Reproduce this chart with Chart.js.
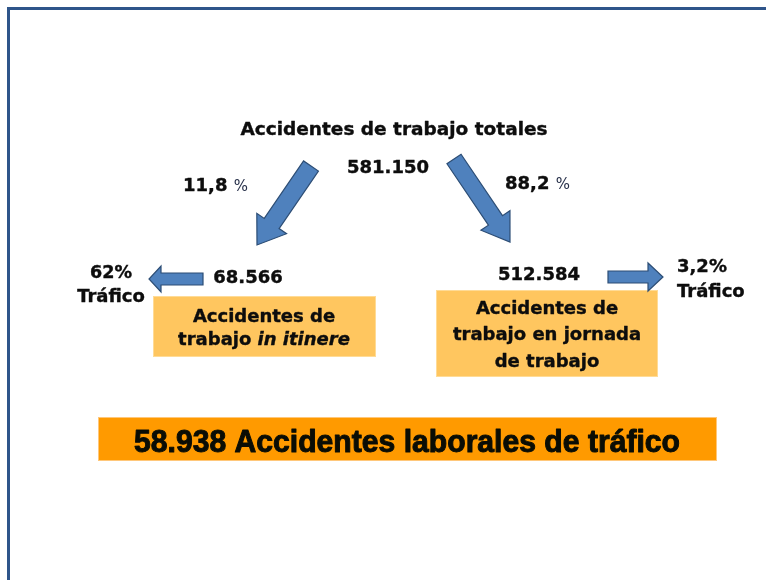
<!DOCTYPE html>
<html>
<head>
<meta charset="utf-8">
<script src="https://cdn.jsdelivr.net/npm/chart.js@4/dist/chart.umd.min.js"></script>
<style>
  html, body { margin: 0; padding: 0; background: #fff; }
  #wrap { width: 766px; height: 580px; }
</style>
</head>
<body>
<div id="wrap"><canvas id="flowChart" width="766" height="580"></canvas></div>
<script>
// values
var totalLabel = 'Accidentes de trabajo totales';
var totalAccidents = 581150;
var branchValues = [68566, 512584];          // in itinere, en jornada
var branchShares = [11.8, 88.2];             // % of the total
var branchLabels = [
    ['Accidentes de', 'trabajo *in itinere*'],
    ['Accidentes de', 'trabajo en jornada', 'de trabajo']
];
var trafficShares = [62, 3.2];               // % of each branch that is traffic
var trafficLabel = 'Tráfico';
var trafficTotal = 58938;
var summaryLabel = 'Accidentes laborales de tráfico';

// layout, in scale units (the scales run 0..766 and 0..580)
var layout = {
    title: { x: 394, y: 135, w: 308 },
    total: { x: 388, y: 173 },
    shares: [{ x: 183, y: 191 }, { x: 505, y: 189 }],
    values: [{ x: 248, y: 283 }, { x: 539, y: 280 }],
    boxes: [
        { x0: 153, y0: 296, x1: 376, y1: 357, cx: 264, lines: [322, 345], w: [145, 183] },
        { x0: 436, y0: 290, x1: 658, y1: 377, cx: 547, lines: [314, 340, 367], w: [143, 192, 105] }
    ],
    diag: [
        { from: [311, 166], to: [257, 245], sw: 9, hw: 18, hl: 26 },
        { from: [454, 159], to: [510, 242], sw: 8.5, hw: 17.5, hl: 26 }
    ],
    side: [
        { from: [203, 279], to: [149, 279], sw: 6, hw: 13, hl: 12 },
        { from: [608, 277], to: [663, 277], sw: 6, hw: 14, hl: 15 }
    ],
    traffic: [
        { x: 111, y1: 278, y2: 302, align: 'center', w: [42, 68] },
        { x: 677, y1: 272, y2: 297, align: 'left', w: [50, 72] }
    ],
    summary: { x0: 98, y0: 417, x1: 717, y1: 461, cx: 407, y: 452, w: 546 }
};

var FONT = '"DejaVu Sans", Verdana, sans-serif';
var INK = '#0d0d0d';

function fmtInt(n) {
    return String(n).replace(/\B(?=(\d{3})+(?!\d))/g, '.');
}
function fmtPct(v) {
    return String(v).replace('.', ',');
}

// draws a row of {text, font, color} pieces, squeezed to maxW if needed
function drawRow(ctx, pieces, x, y, align, maxW, heavy) {
    var total = 0;
    pieces.forEach(function (p) {
        ctx.font = p.font;
        p.width = ctx.measureText(p.text).width;
        total += p.width;
    });
    var s = maxW && total > maxW ? maxW / total : 1;
    ctx.save();
    ctx.translate(x, y);
    ctx.scale(s, 1);
    ctx.textAlign = 'left';
    ctx.textBaseline = 'alphabetic';
    ctx.lineJoin = 'round';
    var cur = align === 'center' ? -total / 2 : 0;
    pieces.forEach(function (p) {
        ctx.font = p.font;
        ctx.fillStyle = p.color || INK;
        ctx.fillText(p.text, cur, 0);
        if (heavy && !p.light) {
            ctx.strokeStyle = p.color || INK;
            ctx.lineWidth = heavy;
            ctx.strokeText(p.text, cur, 0);
        }
        cur += p.width;
    });
    ctx.restore();
}

function richLine(line, size) {
    return line.split('*').filter(function (t) { return t.length; }).map(function (t) {
        var italic = line.indexOf('*' + t + '*') >= 0;
        return { text: t, font: (italic ? 'italic ' : '') + 'bold ' + size + 'px ' + FONT };
    });
}

function arrow(ctx, a, b, sw, hw, hl) {
    var dx = b[0] - a[0], dy = b[1] - a[1];
    var len = Math.sqrt(dx * dx + dy * dy);
    var ux = dx / len, uy = dy / len, nx = -uy, ny = ux;
    var bx = b[0] - ux * hl, by = b[1] - uy * hl;
    ctx.beginPath();
    ctx.moveTo(a[0] + nx * sw, a[1] + ny * sw);
    ctx.lineTo(bx + nx * sw, by + ny * sw);
    ctx.lineTo(bx + nx * hw, by + ny * hw);
    ctx.lineTo(b[0], b[1]);
    ctx.lineTo(bx - nx * hw, by - ny * hw);
    ctx.lineTo(bx - nx * sw, by - ny * sw);
    ctx.lineTo(a[0] - nx * sw, a[1] - ny * sw);
    ctx.closePath();
    ctx.fillStyle = '#4f81bd';
    ctx.fill();
    ctx.lineWidth = 1.2;
    ctx.strokeStyle = '#2c4d75';
    ctx.stroke();
}

var flowPlugin = {
    id: 'flowDiagram',
    afterDatasetsDraw: function (chart) {
        var ctx = chart.ctx;
        var sx = chart.scales.x, sy = chart.scales.y;
        var X = function (v) { return sx.getPixelForValue(v); };
        var Y = function (v) { return sy.getPixelForValue(v); };
        var P = function (p) { return [X(p[0]), Y(p[1])]; };
        var pts = chart.getDatasetMeta(0).data;

        // frame
        ctx.save();
        ctx.strokeStyle = '#2f558a';
        ctx.lineWidth = 3;
        ctx.beginPath();
        ctx.moveTo(X(8.5), Y(580));
        ctx.lineTo(X(8.5), Y(8.5));
        ctx.lineTo(X(766), Y(8.5));
        ctx.stroke();

        // boxes
        layout.boxes.forEach(function (b) {
            ctx.fillStyle = '#ffc65f';
            ctx.fillRect(X(b.x0), Y(b.y0), X(b.x1) - X(b.x0), Y(b.y1) - Y(b.y0));
            ctx.strokeStyle = '#ffdb96';
            ctx.lineWidth = 1;
            ctx.strokeRect(X(b.x0) + 0.5, Y(b.y0) + 0.5, X(b.x1) - X(b.x0) - 1, Y(b.y1) - Y(b.y0) - 1);
        });
        var sm = layout.summary;
        ctx.fillStyle = '#ff9a00';
        ctx.fillRect(X(sm.x0), Y(sm.y0), X(sm.x1) - X(sm.x0), Y(sm.y1) - Y(sm.y0));
        ctx.strokeStyle = '#ffc77a';
        ctx.strokeRect(X(sm.x0) + 0.5, Y(sm.y0) + 0.5, X(sm.x1) - X(sm.x0) - 1, Y(sm.y1) - Y(sm.y0) - 1);

        // arrows
        layout.diag.concat(layout.side).forEach(function (a) {
            arrow(ctx, P(a.from), P(a.to), a.sw, a.hw, a.hl);
        });

        // title and node values (value points come from the dataset)
        drawRow(ctx, [{ text: totalLabel, font: 'bold 18.5px ' + FONT }],
            X(layout.title.x), Y(layout.title.y), 'center', layout.title.w, 0.4);
        pts.forEach(function (el, i) {
            var v = chart.data.datasets[0].data[i].v;
            drawRow(ctx, [{ text: fmtInt(v), font: 'bold 18px ' + FONT }], el.x, el.y, 'center', 0, 0.4);
        });

        // branch shares
        branchShares.forEach(function (s, i) {
            var p = layout.shares[i];
            drawRow(ctx, [
                { text: fmtPct(s) + ' ', font: 'bold 18px ' + FONT },
                { text: '%', font: '15px ' + FONT, color: '#27304a', light: true }
            ], X(p.x), Y(p.y), 'left', 0, 0.4);
        });

        // box texts
        branchLabels.forEach(function (lines, i) {
            var b = layout.boxes[i];
            lines.forEach(function (line, j) {
                drawRow(ctx, richLine(line, 18), X(b.cx), Y(b.lines[j]), 'center', b.w[j], 0.4);
            });
        });

        // traffic shares
        trafficShares.forEach(function (s, i) {
            var t = layout.traffic[i];
            drawRow(ctx, [{ text: fmtPct(s) + '%', font: 'bold 18px ' + FONT }], X(t.x), Y(t.y1), t.align, t.w[0], 0.4);
            drawRow(ctx, [{ text: trafficLabel, font: 'bold 18px ' + FONT }], X(t.x), Y(t.y2), t.align, t.w[1], 0.4);
        });

        // summary
        drawRow(ctx, [{ text: fmtInt(trafficTotal) + ' ' + summaryLabel,
                        font: 'bold 31px "Liberation Sans", Arial, sans-serif', color: '#0a0d05' }],
            X(sm.cx), Y(sm.y), 'center', sm.w, 1);
        ctx.restore();
    }
};

var nodePoints = [
    { x: layout.total.x, y: layout.total.y, v: totalAccidents },
    { x: layout.values[0].x, y: layout.values[0].y, v: branchValues[0] },
    { x: layout.values[1].x, y: layout.values[1].y, v: branchValues[1] }
];

var flowChart = new Chart(document.getElementById('flowChart'), {
    type: 'scatter',
    data: {
        datasets: [{
            label: 'Accidentes',
            data: nodePoints,
            pointRadius: 0,
            pointHoverRadius: 0
        }]
    },
    options: {
        responsive: false,
        animation: false,
        devicePixelRatio: 1,
        layout: { padding: 0 },
        events: [],
        scales: {
            x: { type: 'linear', min: 0, max: 766, display: false },
            y: { type: 'linear', min: 0, max: 580, reverse: true, display: false }
        },
        plugins: {
            legend: { display: false },
            tooltip: { enabled: false }
        }
    },
    plugins: [flowPlugin]
});
</script>
</body>
</html>
